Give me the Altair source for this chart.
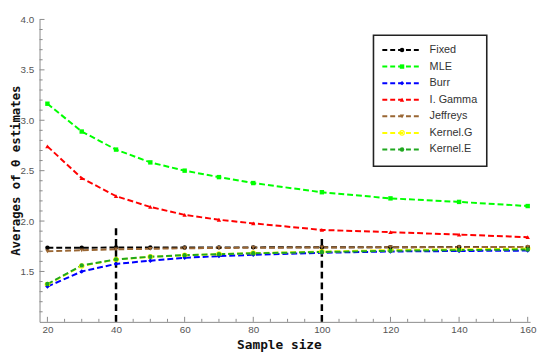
import altair as alt
import pandas as pd

sizes = [20, 30, 40, 50, 60, 70, 80, 100, 120, 140, 160]
fixed = [1.735, 1.736, 1.737, 1.738, 1.738, 1.739, 1.739, 1.740, 1.741, 1.742, 1.743]
mle = [3.164, 2.888, 2.709, 2.582, 2.500, 2.436, 2.377, 2.286, 2.225, 2.190, 2.149]
burr = [1.350, 1.500, 1.575, 1.607, 1.636, 1.652, 1.665, 1.685, 1.698, 1.703, 1.707]
igamma = [2.741, 2.426, 2.247, 2.140, 2.061, 2.013, 1.977, 1.912, 1.890, 1.866, 1.840]
jeffreys = [1.700, 1.710, 1.720, 1.725, 1.730, 1.733, 1.735, 1.738, 1.740, 1.741, 1.743]
kernel_g = [1.370, 1.555, 1.618, 1.645, 1.660, 1.672, 1.682, 1.697, 1.712, 1.720, 1.727]
kernel_e = [1.375, 1.560, 1.620, 1.646, 1.662, 1.672, 1.680, 1.693, 1.705, 1.712, 1.718]

series_names = ["Fixed", "MLE", "Burr", "I. Gamma", "Jeffreys", "Kernel.G", "Kernel.E"]
series_colors = ["#000000", "#00ff00", "#0000ff", "#ff0000", "#996633", "#ffff00", "#1fa81f"]
series_shapes = ["circle", "square", "diamond", "triangle-up", "triangle-down", "circle", "circle"]

ref_x = [40, 100]
ref_top = [1.96, 1.83]

x_min, x_max = 17.7, 160.7
y_min, y_max = 1.0, 4.0
x_label_values = [20, 40, 60, 80, 100, 120, 140, 160]
y_label_values = [1.5, 2.0, 2.5, 3.0, 3.5, 4.0]

rows = []
for i, (name, vals) in enumerate(zip(series_names, [fixed, mle, burr, igamma, jeffreys, kernel_g, kernel_e])):
    for n, v in zip(sizes, vals):
        rows.append({"n": n, "est": v, "series": name, "k": i})
df = pd.DataFrame(rows)

# inward tick marks (Mathematica style)
xt = pd.DataFrame({"t": list(range(20, 161, 5))})
xt["y0"] = y_min
xt["y1"] = [y_min + (0.05 if t % 20 == 0 else 0.03) for t in xt["t"]]
yt = pd.DataFrame({"t": [round(1.1 + 0.1 * i, 1) for i in range(30)]})
yt["x0"] = x_min
yt["x1"] = [x_min + (1.45 if round(t * 10) % 5 == 0 else 0.9) for t in yt["t"]]

ref_df = pd.DataFrame({"n": ref_x, "lo": [y_min] * len(ref_x), "hi": ref_top})

xscale = alt.Scale(domain=[x_min, x_max], nice=False, zero=False)
yscale = alt.Scale(domain=[y_min, y_max], nice=False, zero=False)
color = alt.Color("series:N", scale=alt.Scale(domain=series_names, range=series_colors), legend=None)
shape = alt.Shape("series:N", scale=alt.Scale(domain=series_names, range=series_shapes), legend=None)

xaxis = alt.Axis(values=x_label_values, grid=False, ticks=False, labelFlush=False,
                 domainColor="#8a8a8a", labelColor="#555555", labelFont="Liberation Sans",
                 labelFontSize=10, labelPadding=3, titleFont="DejaVu Sans Mono",
                 titleFontWeight="bold", titleFontSize=13, titleColor="#111111",
                 titleX=243, titleY=23, titleBaseline="middle", titleAlign="center")
yaxis = alt.Axis(values=y_label_values, format=".1f", grid=False, ticks=False, labelFlush=False,
                 domainColor="#8a8a8a", labelColor="#555555", labelFont="Liberation Sans",
                 labelFontSize=10, labelPadding=6, titleFont="DejaVu Sans Mono",
                 titleFontWeight="bold", titleFontSize=12.5, titleColor="#111111",
                 titleX=-24, titleY=153, titleBaseline="middle", titleAlign="center", titleAngle=270)

lines = alt.Chart(df).mark_line(strokeWidth=2, strokeDash=[6, 3]).encode(
    x=alt.X("n:Q", scale=xscale, axis=xaxis, title="Sample size"),
    y=alt.Y("est:Q", scale=yscale, axis=yaxis, title="Averages of θ estimates"),
    color=color, detail="series:N", order="n:Q")

pts = alt.Chart(df).transform_filter(alt.datum.series != "Kernel.G").mark_point(
    filled=True, size=20, opacity=1).encode(
    x=alt.X("n:Q", scale=xscale), y=alt.Y("est:Q", scale=yscale), color=color, shape=shape)
pts_g = alt.Chart(df).transform_filter(alt.datum.series == "Kernel.G").mark_point(
    filled=False, size=20, opacity=1, strokeWidth=1.2).encode(
    x=alt.X("n:Q", scale=xscale), y=alt.Y("est:Q", scale=yscale), color=color)

xticks = alt.Chart(xt).mark_rule(color="#8a8a8a", strokeWidth=1).encode(
    x=alt.X("t:Q", scale=xscale), y=alt.Y("y0:Q", scale=yscale), y2="y1:Q")
yticks = alt.Chart(yt).mark_rule(color="#8a8a8a", strokeWidth=1).encode(
    y=alt.Y("t:Q", scale=yscale), x=alt.X("x0:Q", scale=xscale), x2="x1:Q")

refs = alt.Chart(ref_df).mark_rule(color="#000000", strokeWidth=2.5, strokeDash=[7, 4]).encode(
    x=alt.X("n:Q", scale=xscale), y=alt.Y("lo:Q", scale=yscale), y2="hi:Q")

main = alt.layer(xticks, yticks, refs, lines, pts_g, pts)

# legend box
leg_df = pd.DataFrame({"series": series_names})
ly = alt.Y("series:N", scale=alt.Scale(type="point", domain=series_names, range=[31, 132], padding=0), axis=None)
box = alt.Chart(pd.DataFrame({"a": [0]})).mark_rect(fill="white", stroke="#222222", strokeWidth=1.6).encode(
    x=alt.value(339), x2=alt.value(454), y=alt.value(16), y2=alt.value(149))
leg_lines = alt.Chart(leg_df).mark_rule(strokeWidth=2, strokeDash=[5, 3]).encode(
    x=alt.value(348), x2=alt.value(388), y=ly, color=color)
leg_pts = alt.Chart(leg_df).transform_filter(alt.datum.series != "Kernel.G").mark_point(
    filled=True, size=20, opacity=1).encode(x=alt.value(368), y=ly, color=color, shape=shape)
leg_pts_g = alt.Chart(leg_df).transform_filter(alt.datum.series == "Kernel.G").mark_point(
    filled=False, size=20, opacity=1, strokeWidth=1.2).encode(x=alt.value(368), y=ly, color=color)
leg_text = alt.Chart(leg_df).mark_text(align="left", baseline="middle", font="Liberation Sans",
                                       fontSize=11, color="#333333").encode(
    x=alt.value(396), y=ly, text="series:N")
legend = alt.layer(box, leg_lines, leg_pts, leg_pts_g, leg_text)

chart = alt.layer(main, legend).resolve_scale(y="independent").properties(
    width=498, height=307, autosize="none",
    padding={"left": 32, "top": 9, "right": 7, "bottom": 30}
).configure_view(stroke=None)

chart.save("out.html", embed_options={"renderer": "svg", "actions": False})
